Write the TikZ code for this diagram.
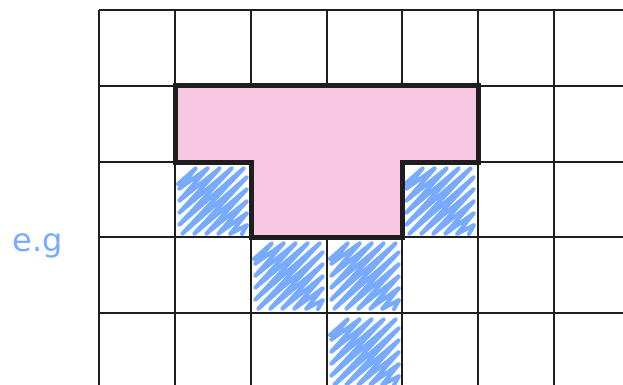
\documentclass[tikz,border=0pt]{standalone}
\usepackage{fontspec}
\setsansfont{DejaVu Sans}
\begin{document}
\begin{tikzpicture}[x=1pt,y=-1pt,
  gridline/.style={draw=gridc,line width=2.6pt},
  tborder/.style={draw=gridc,line width=5pt,line join=miter},
  tfill/.style={fill=tpink},
  scrib/.style={draw=scribc,line width=4pt,line join=round,line cap=round},
  egtext/.style={text=scribc,font=\sffamily\fontsize{32}{34}\selectfont,inner sep=0pt}]
\definecolor{gridc}{HTML}{1E1E1E}
\definecolor{tpink}{HTML}{F8C8E2}
\definecolor{scribc}{HTML}{78AAFF}
\useasboundingbox (0,0) rectangle (623,385);
\fill[white] (0,0) rectangle (623,385);
% scribbles
\foreach \cx/\cy in {175/162, 402/162, 251/237, 327/237, 327/313}{
  \begin{scope}[shift={(\cx,\cy)}]
    \clip (1,1) rectangle (75,75);
    \draw[scrib] (3,22) \foreach \c in {25,37,...,133} {
      -- ({min(72,\c-4)},{\c+2-min(72,\c-4)})
      -- ({max(4,\c+6-72)},{\c+6-max(4,\c+6-72)}) };
  \end{scope}
}
% grid
\foreach \x in {99,175,251,327,402,478,554} \draw[gridline] (\x,10) -- (\x,385);
\foreach \y in {10,86,162,237,313} \draw[gridline] (99,\y) -- (623,\y);
% pink T
\path[tfill] (175,86) -- (478,86) -- (478,162) -- (402,162) -- (402,237) -- (251,237) -- (251,162) -- (175,162) -- cycle;
% T border
\draw[tborder] (175,86) -- (478,86) -- (478,162) -- (402,162) -- (402,237) -- (251,237) -- (251,162) -- (175,162) -- cycle;
% label
\node[egtext] (eg) at (38,246) {e.g};
\end{tikzpicture}
\end{document}
